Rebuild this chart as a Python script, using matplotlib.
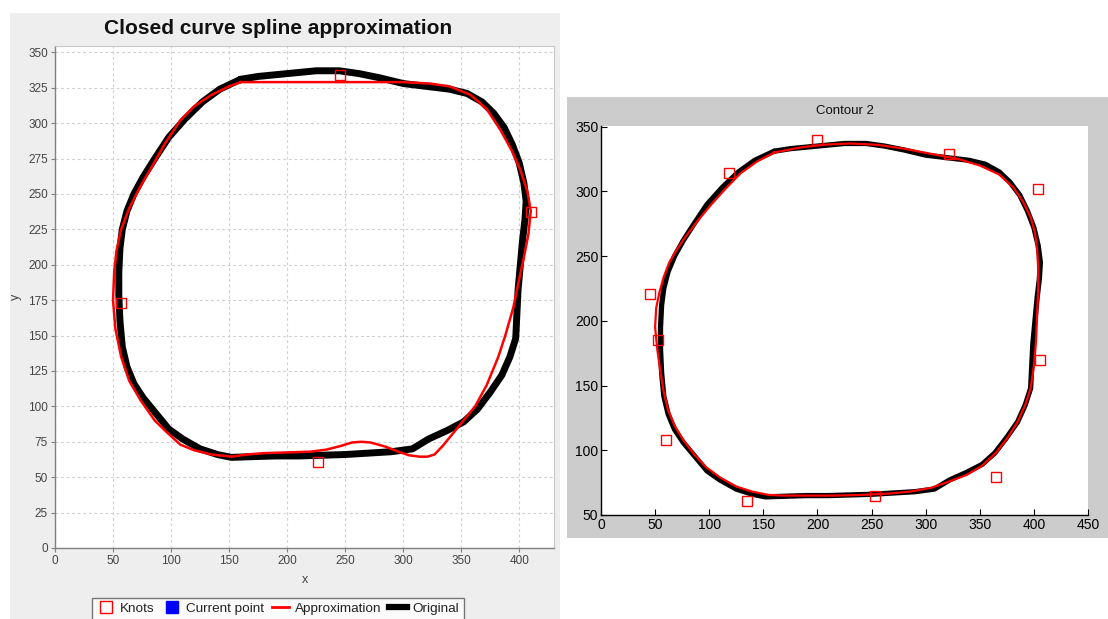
import matplotlib
matplotlib.use("Agg")
import matplotlib.pyplot as plt
from matplotlib.patches import Rectangle
from matplotlib.lines import Line2D

# ---------------- data ----------------
orig_x = [160, 175, 200, 225, 245, 262, 280, 300, 320, 340, 355, 368, 378, 387, 394, 400,
          404, 406, 405, 403, 401, 399, 398, 397, 392, 385, 375, 364, 352, 338, 322, 308,
          290, 270, 250, 230, 210, 190, 170, 152, 140, 125, 110, 98, 86, 76, 68, 62, 58,
          56, 55, 55, 56, 58, 62, 68, 76, 86, 98, 112, 127, 142, 160]
orig_y = [331, 333, 335, 337, 337, 335, 332, 328, 326, 324, 321, 315, 307, 297, 285, 272,
          258, 245, 232, 218, 200, 182, 165, 148, 135, 122, 110, 98, 89, 83, 77, 70,
          68, 67, 66, 65.5, 65, 65, 64.5, 64, 66, 70, 77, 84, 96, 106, 116, 128, 142,
          160, 178, 195, 212, 225, 238, 250, 262, 275, 290, 303, 315, 324, 331]

approx1_x = [160, 200, 250, 300, 323, 340, 358, 372, 384, 394, 401, 407, 410, 408, 404,
             400, 395, 388, 382, 372, 362, 352, 342, 334, 327, 321, 314, 305, 296, 285,
             272, 264, 256, 246, 234, 220, 200, 180, 165, 152, 135, 120, 108, 96, 86, 74,
             64, 57, 52, 50, 51, 53, 57, 64, 74, 84, 95, 108, 120, 135, 150, 160]
approx1_y = [329, 329, 329, 329, 328, 326, 320, 310, 295, 280, 267, 252, 238, 222, 205,
             190, 170, 150, 135, 115, 100, 90, 80, 72, 66, 64.5, 64.5, 65.5, 68, 71.5,
             74.5, 75, 74.5, 72, 69.5, 68, 67.5, 67, 66, 64.5, 66, 69, 73, 82, 90, 104,
             118, 135, 155, 175, 195, 210, 225, 240, 256, 270, 286, 302, 312, 320, 326, 329]

approx2_x = [160, 185, 205, 230, 255, 280, 305, 330, 350, 368, 381, 390, 397, 401, 403,
             404, 404, 403, 402, 400, 397, 392, 385, 376, 365, 352, 338, 322, 305, 285,
             265, 240, 215, 190, 170, 155, 140, 125, 110, 97, 86, 76, 68, 62, 58, 55, 52,
             50, 51, 54, 58, 63, 70, 79, 90, 102, 115, 129, 144, 160]
approx2_y = [330, 334, 336, 337, 336, 333, 329, 325, 320, 313, 303, 292, 280, 268, 255,
             240, 225, 205, 185, 165, 148, 135, 122, 110, 98, 88, 81, 76, 71, 68,
             66.5, 65.5, 65, 65, 65, 65.5, 68, 72, 79, 87, 97, 108, 119, 131, 145, 160, 178,
             195, 210, 222, 234, 245, 255, 266, 278, 290, 302, 314, 323, 330]

knots1_x = [246, 410, 57, 227]
knots1_y = [334, 237, 173, 61]

knots2_x = [118, 200, 322, 404, 406, 365, 253, 135, 60, 53, 45]
knots2_y = [314, 340, 329, 302, 170, 79, 65, 61, 108, 185, 221]

xticks1 = [0, 50, 100, 150, 200, 250, 300, 350, 400]
yticks1 = [0, 25, 50, 75, 100, 125, 150, 175, 200, 225, 250, 275, 300, 325, 350]
xticks2 = [0, 50, 100, 150, 200, 250, 300, 350, 400, 450]
yticks2 = [50, 100, 150, 200, 250, 300, 350]

legend_labels = ["Knots", "Current point", "Approximation", "Original"]

# ---------------- figure ----------------
W, H = 1108, 619
plt.rcParams["font.family"] = ["Liberation Sans", "DejaVu Sans"]
fig = plt.figure(figsize=(W / 100, H / 100), dpi=100)
fig.patch.set_facecolor("white")


def fx(px):
    return px / W


def fy(py):
    return 1 - py / H


# background panels
fig.patches.append(Rectangle((fx(10), fy(619)), fx(560) - fx(10), fy(13) - fy(619),
                             transform=fig.transFigure, facecolor="#eeeeee",
                             edgecolor="none", zorder=-10))
fig.patches.append(Rectangle((fx(567), fy(538)), fx(1108) - fx(567), fy(97) - fy(538),
                             transform=fig.transFigure, facecolor="#cccccc",
                             edgecolor="none", zorder=-10))

# ---------------- left panel ----------------
ax1 = fig.add_axes([fx(55), fy(548), fx(554) - fx(55), fy(46) - fy(548)])
ax1.set_facecolor("white")
ax1.set_xlim(0, 430)
ax1.set_ylim(0, 354.5)
ax1.set_xticks(xticks1)
ax1.set_yticks(yticks1)
ax1.grid(True, color="#d0d0d0", linestyle=(0, (2.5, 2.5)), linewidth=0.8)
ax1.set_axisbelow(True)
for s in ["top", "right"]:
    ax1.spines[s].set_color("#c8c8c8")
    ax1.spines[s].set_linewidth(0.8)
for s in ["left", "bottom"]:
    ax1.spines[s].set_color("#808080")
    ax1.spines[s].set_linewidth(1.0)
ax1.tick_params(axis="both", direction="out", length=3, width=0.8, color="#808080",
                labelsize=8.5, labelcolor="#444444", pad=2)
ax1.plot(orig_x, orig_y, color="black", linewidth=5.0, solid_capstyle="round",
         solid_joinstyle="round", zorder=3)
ax1.plot(approx1_x, approx1_y, color="#ff0000", linewidth=1.8, zorder=4)
ax1.plot(knots1_x, knots1_y, linestyle="none", marker="s", markersize=7.5,
         markerfacecolor="none", markeredgecolor="#ff0000", markeredgewidth=1.0, zorder=5)
fig.text(fx(278), fy(29), "Closed curve spline approximation", ha="center", va="center",
         fontsize=15, fontweight="bold", color="#111111")
fig.text(fx(305), fy(580), "x", ha="center", va="center", fontsize=9, color="#444444")
fig.text(fx(16), fy(297), "y", ha="center", va="center", fontsize=9, color="#444444",
         rotation=90)

handles = [
    Line2D([], [], linestyle="none", marker="s", markersize=8, markerfacecolor="none",
           markeredgecolor="#ff0000", markeredgewidth=1.0),
    Line2D([], [], linestyle="none", marker="s", markersize=8, markerfacecolor="#0000ff",
           markeredgecolor="#0000ff"),
    Line2D([], [], color="#ff0000", linewidth=2),
    Line2D([], [], color="black", linewidth=4.5),
]
leg = fig.legend(handles, legend_labels, loc="upper center",
                 bbox_to_anchor=(fx(278), fy(598)), ncol=4, frameon=True,
                 fancybox=False, shadow=False, fontsize=9.7, handlelength=1.3,
                 handletextpad=0.4, columnspacing=0.6, borderpad=0.35,
                 borderaxespad=0)
leg.get_frame().set_edgecolor("#555555")
leg.get_frame().set_linewidth(1.0)
leg.get_frame().set_facecolor("white")
for t in leg.get_texts():
    t.set_color("#222222")

# ---------------- right panel ----------------
ax2 = fig.add_axes([fx(601), fy(515), fx(1088) - fx(601), fy(126) - fy(515)])
ax2.set_facecolor("white")
ax2.set_xlim(0, 450)
ax2.set_ylim(50, 350.5)
ax2.set_xticks(xticks2)
ax2.set_yticks(yticks2)
for s in ["top", "right"]:
    ax2.spines[s].set_visible(False)
for s in ["left", "bottom"]:
    ax2.spines[s].set_color("black")
    ax2.spines[s].set_linewidth(1.0)
ax2.tick_params(axis="both", direction="in", length=4, width=0.8, color="black",
                labelsize=10, labelcolor="black", pad=2)
ax2.plot(orig_x, orig_y, color="black", linewidth=3.8, solid_capstyle="round",
         solid_joinstyle="round", zorder=3)
ax2.plot(approx2_x, approx2_y, color="#ff0000", linewidth=1.6, zorder=4)
ax2.plot(knots2_x, knots2_y, linestyle="none", marker="s", markersize=7.5,
         markerfacecolor="none", markeredgecolor="#ff0000", markeredgewidth=1.0, zorder=5)
fig.text(fx(845), fy(111), "Contour 2", ha="center", va="center", fontsize=9.5,
         color="#111111")

fig.savefig("out.png", dpi=100)
